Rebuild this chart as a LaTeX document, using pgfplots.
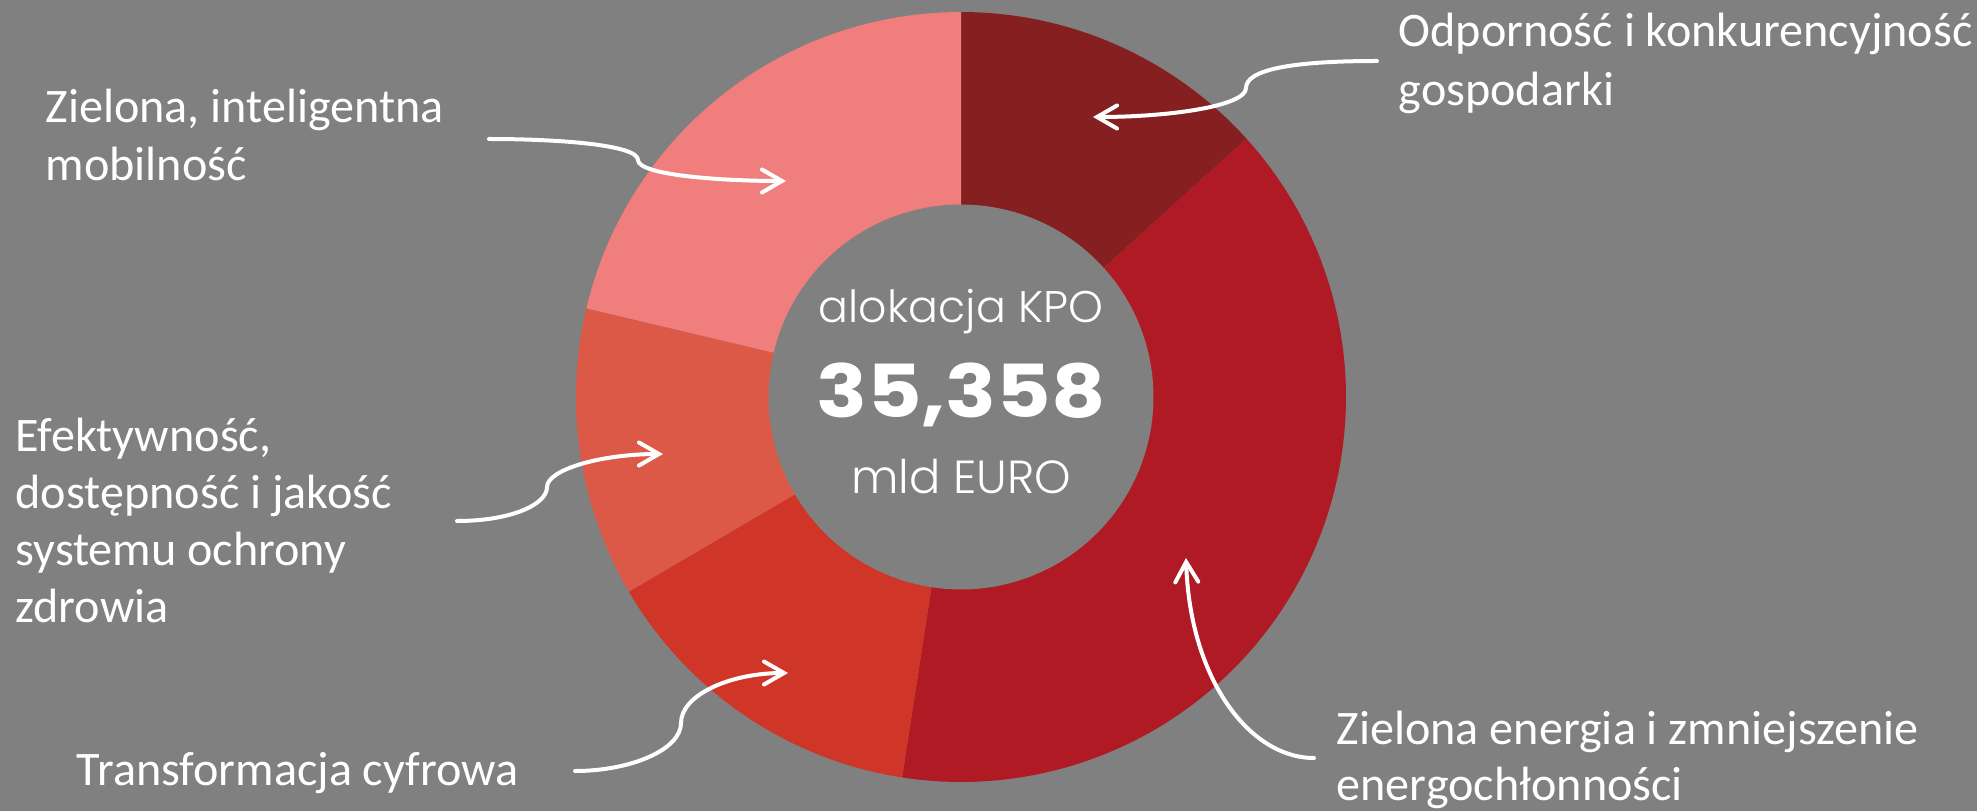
\documentclass[border=0pt]{standalone}
\usepackage{fontspec}
\setmainfont{Carlito}
\IfFontExistsTF{Poppins Light}
  {\newfontfamily\ctr{Poppins Light}}
  {\newfontfamily\ctr{Poppins}}
\newfontfamily\ctrb[FakeStretch=1.15]{Poppins}
\usepackage{pgfplots}
\usepackage{pgfplotstable}
\pgfplotsset{compat=1.18}
\usetikzlibrary{arrows.meta}

\definecolor{bg}{RGB}{128,128,128}
\definecolor{sA}{RGB}{133,31,32}
\definecolor{sB}{RGB}{176,26,36}
\definecolor{sC}{RGB}{207,54,39}
\definecolor{sD}{RGB}{221,89,71}
\definecolor{sE}{RGB}{240,126,125}

% KPO allocation per component, mld EUR (clockwise from top)
\pgfplotstableread{
seg value
A 4.70
B 13.84
C 4.99
D 4.29
E 7.53
}\kpo

\tikzset{
  lbl/.style={anchor=base west, text=white, inner sep=0pt,
              font=\fontsize{13.7}{16}\selectfont},
  arr/.style={white, line width=0.4mm, line cap=round,
              -{Straight Barb[length=2mm,width=2.3mm,line cap=round]}}
}

\begin{document}
\begin{tikzpicture}
% cumulative boundary angles (degrees, clockwise from top)
\def\tot{0}
\foreach \i in {0,...,4}{%
  \pgfplotstablegetelem{\i}{value}\of\kpo
  \pgfmathsetmacro\t{\tot+\pgfplotsretval}\xdef\tot{\t}}
\def\run{0}
\xdef\bA{0}
\foreach \i/\nm in {0/bB,1/bC,2/bD,3/bE,4/bF}{%
  \pgfplotstablegetelem{\i}{value}\of\kpo
  \pgfmathsetmacro\t{\run+\pgfplotsretval}\xdef\run{\t}
  \pgfmathsetmacro\a{360*\run/\tot}
  \expandafter\xdef\csname\nm\endcsname{\a}}
\def\cx{961}\def\cy{397}\def\R{385}\def\r{192.5}

\begin{axis}[
  hide axis, scale only axis,
  width=197.7mm, height=81.1mm,
  xmin=0, xmax=1977, ymin=0, ymax=811,
  y dir=reverse, clip=false]
\fill[bg] (axis cs:0,0) rectangle (axis cs:1977,811);

\addplot[fill=sA, draw=none, domain=\bA:\bB, samples=60, variable=\t]
  ({\cx+\R*sin(t)},{\cy-\R*cos(t)}) -- (axis cs:\cx,\cy) -- cycle;
\addplot[fill=sB, draw=none, domain=\bB:\bC, samples=120, variable=\t]
  ({\cx+\R*sin(t)},{\cy-\R*cos(t)}) -- (axis cs:\cx,\cy) -- cycle;
\addplot[fill=sC, draw=none, domain=\bC:\bD, samples=60, variable=\t]
  ({\cx+\R*sin(t)},{\cy-\R*cos(t)}) -- (axis cs:\cx,\cy) -- cycle;
\addplot[fill=sD, draw=none, domain=\bD:\bE, samples=60, variable=\t]
  ({\cx+\R*sin(t)},{\cy-\R*cos(t)}) -- (axis cs:\cx,\cy) -- cycle;
\addplot[fill=sE, draw=none, domain=\bE:\bF, samples=80, variable=\t]
  ({\cx+\R*sin(t)},{\cy-\R*cos(t)}) -- (axis cs:\cx,\cy) -- cycle;
% hole
\addplot[fill=bg, draw=none, domain=0:360, samples=180, variable=\t]
  ({\cx+\r*sin(t)},{\cy-\r*cos(t)}) -- cycle;

% centre text
\node[anchor=base, text=white, inner sep=0pt, font=\ctr\fontsize{12.6}{15}\selectfont]
  at (axis cs:961,322) {alokacja KPO};
\node[anchor=base, text=white, inner sep=0pt, font=\ctrb\bfseries\fontsize{20.8}{24}\selectfont]
  at (axis cs:961,417) {35,358};
\node[anchor=base, text=white, inner sep=0pt, font=\ctr\fontsize{13.2}{15}\selectfont]
  at (axis cs:961,493) {mld EURO};

% labels
\node[lbl] at (axis cs:1398,47) {Odporność i konkurencyjność};
\node[lbl] at (axis cs:1398,106) {gospodarki};
\node[lbl] at (axis cs:45,123) {Zielona, inteligentna};
\node[lbl] at (axis cs:45,181) {mobilność};
\node[lbl] at (axis cs:15,451) {Efektywność,};
\node[lbl] at (axis cs:15,508) {dostępność i jakość};
\node[lbl] at (axis cs:15,565) {systemu ochrony};
\node[lbl] at (axis cs:15,622) {zdrowia};
\node[lbl] at (axis cs:76,785) {Transformacja cyfrowa};
\node[lbl] at (axis cs:1336,744) {Zielona energia i zmniejszenie};
\node[lbl] at (axis cs:1336,800) {energochłonności};

% arrows
\draw[arr] (axis cs:1377,61) .. controls (axis cs:1290,61) and (axis cs:1246,70) ..
  (axis cs:1246,88) .. controls (axis cs:1246,106) and (axis cs:1170,117) .. (axis cs:1093,117);
\draw[arr] (axis cs:489,139) .. controls (axis cs:560,139) and (axis cs:638,145) ..
  (axis cs:638,160) .. controls (axis cs:638,175) and (axis cs:720,181) .. (axis cs:786,181);
\draw[arr] (axis cs:457,521) .. controls (axis cs:510,521) and (axis cs:547,505) ..
  (axis cs:547,487) .. controls (axis cs:547,470) and (axis cs:600,454) .. (axis cs:663,454);
\draw[arr] (axis cs:575,771) .. controls (axis cs:630,771) and (axis cs:681,750) ..
  (axis cs:681,723) .. controls (axis cs:681,695) and (axis cs:730,673) .. (axis cs:788,673);
\draw[arr] (axis cs:1314,758) .. controls (axis cs:1250,758) and (axis cs:1190,680) ..
  (axis cs:1186,558);
\end{axis}
\end{tikzpicture}
\end{document}
